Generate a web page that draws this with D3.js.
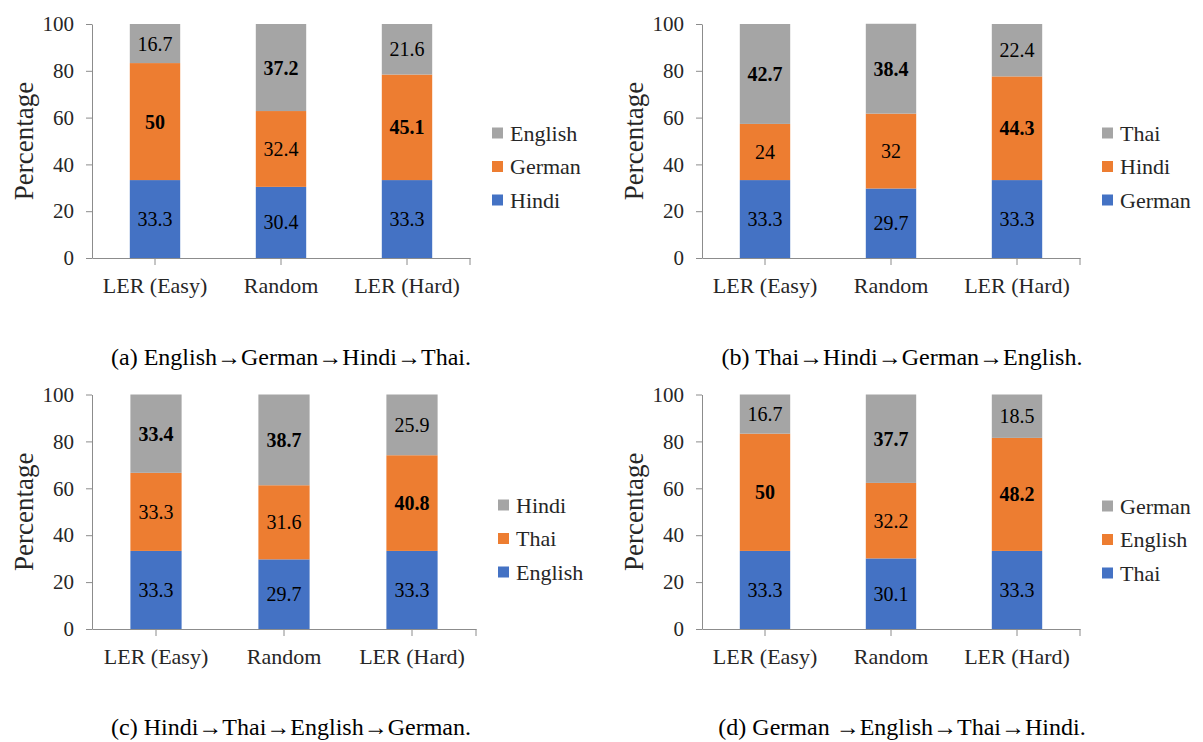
<!DOCTYPE html>
<html>
<head>
<meta charset="utf-8">
<script src="https://cdn.jsdelivr.net/npm/d3@7"></script>
<style>
  body { margin: 0; background: #fff; }
  svg { display: block; }
</style>
</head>
<body>
<svg id="theSvg"></svg>
<script>
// categories shared by all four panels
const categories = ["LER (Easy)", "Random", "LER (Hard)"];

// (a) English -> German -> Hindi -> Thai
const seriesA = ["Hindi", "German", "English"];
const valuesA = [[33.3, 30.4, 33.3], [50, 32.4, 45.1], [16.7, 37.2, 21.6]];
// (b) Thai -> Hindi -> German -> English
const seriesB = ["German", "Hindi", "Thai"];
const valuesB = [[33.3, 29.7, 33.3], [24, 32, 44.3], [42.7, 38.4, 22.4]];
// (c) Hindi -> Thai -> English -> German
const seriesC = ["English", "Thai", "Hindi"];
const valuesC = [[33.3, 29.7, 33.3], [33.3, 31.6, 40.8], [33.4, 38.7, 25.9]];
// (d) German -> English -> Thai -> Hindi
const seriesD = ["Thai", "English", "German"];
const valuesD = [[33.3, 30.1, 33.3], [50, 32.2, 48.2], [16.7, 37.7, 18.5]];

const captions = [
  "(a) English\u2192German\u2192Hindi\u2192Thai.",
  "(b) Thai\u2192Hindi\u2192German\u2192English.",
  "(c) Hindi\u2192Thai\u2192English\u2192German.",
  "(d) German \u2192English\u2192Thai\u2192Hindi."
];
const yTicks = [0, 20, 40, 60, 80, 100];

const colours = ["#4472C4", "#ED7D31", "#A5A5A5"];
const axisColour = "#8c8c8c";
const textColour = "#262626";
const font = "'Liberation Serif', 'Times New Roman', serif";

const width = 1203, height = 742;
const svg = d3.select("#theSvg")
  .attr("width", width)
  .attr("height", height)
  .attr("viewBox", [0, 0, width, height])
  .style("font-family", font);

const panels = [
  {series: seriesA, values: valuesA, caption: captions[0], x0: 92, x1: 470, yb: 258, yt: 24, cx: 291, cy: 365, ly: 133},
  {series: seriesB, values: valuesB, caption: captions[1], x0: 702, x1: 1080, yb: 258, yt: 24, cx: 902, cy: 365, ly: 133},
  {series: seriesC, values: valuesC, caption: captions[2], x0: 92, x1: 476, yb: 629, yt: 394.5, cx: 291, cy: 735, ly: 505},
  {series: seriesD, values: valuesD, caption: captions[3], x0: 702, x1: 1080, yb: 629, yt: 394.5, cx: 902, cy: 735, ly: 506}
];

panels.forEach(function(p) {
  const g = svg.append("g").attr("class", "panel");

  const x = d3.scaleBand()
    .domain(categories)
    .range([p.x0, p.x1])
    .paddingInner(0.6)
    .paddingOuter(0.3);

  const y = d3.scaleLinear()
    .domain([0, 100])
    .range([p.yb, p.yt]);

  const rows = categories.map(function(c, i) {
    const r = {category: c};
    p.series.forEach(function(s, j) { r[s] = p.values[j][i]; });
    return r;
  });
  const stacked = d3.stack().keys(p.series)(rows);

  // bars
  g.append("g").selectAll("g")
    .data(stacked)
    .join("g")
      .attr("fill", (d, i) => colours[i])
    .selectAll("rect")
    .data(d => d)
    .join("rect")
      .attr("x", d => x(d.data.category))
      .attr("y", d => y(d[1]))
      .attr("width", x.bandwidth())
      .attr("height", d => y(d[0]) - y(d[1]));

  // value labels, largest one in each bar in bold
  stacked.forEach(function(layer) {
    g.append("g").selectAll("text")
      .data(layer)
      .join("text")
        .attr("x", d => x(d.data.category) + x.bandwidth() / 2)
        .attr("y", d => (y(d[0]) + y(d[1])) / 2)
        .attr("dy", "0.35em")
        .attr("text-anchor", "middle")
        .style("font-family", font)
        .style("font-size", "20px")
        .attr("fill", "#000")
        .attr("font-weight", function(d) {
          const v = d.data[layer.key];
          const m = d3.max(p.series, s => d.data[s]);
          return v === m ? "bold" : null;
        })
        .text(d => d.data[layer.key]);
  });

  // y axis
  const yAxis = g.append("g")
    .attr("transform", "translate(" + p.x0 + ",0)")
    .call(d3.axisLeft(y).tickValues(yTicks).tickSize(6).tickPadding(12).tickSizeOuter(0));
  yAxis.select(".domain").attr("stroke", axisColour);
  yAxis.selectAll(".tick line").attr("stroke", axisColour);
  yAxis.selectAll(".tick text")
    .style("font-family", font)
    .style("font-size", "21px")
    .attr("fill", textColour);

  // x axis, ticks under the bars plus one closing tick
  const xAxis = g.append("g")
    .attr("transform", "translate(0," + p.yb + ")")
    .call(d3.axisBottom(x).tickSize(7).tickPadding(12).tickSizeOuter(0));
  xAxis.select(".domain").attr("stroke", axisColour);
  xAxis.selectAll(".tick line").attr("stroke", axisColour);
  xAxis.selectAll(".tick text")
    .style("font-family", font)
    .style("font-size", "22px")
    .attr("fill", textColour);
  xAxis.append("line")
    .attr("x1", p.x1).attr("x2", p.x1)
    .attr("y1", 0).attr("y2", 7)
    .attr("stroke", axisColour);

  // y title
  g.append("text")
    .attr("transform", "translate(" + (p.x0 - 68) + "," + ((p.yb + p.yt) / 2) + ") rotate(-90)")
    .attr("text-anchor", "middle")
    .attr("dy", "0.35em")
    .style("font-size", "27px")
    .attr("fill", textColour)
    .text("Percentage");

  // legend
  const legend = g.append("g")
    .attr("transform", "translate(" + (p.x1 + 22) + "," + p.ly + ")");
  const entries = p.series.map((s, i) => ({name: s, colour: colours[i]})).reverse();
  const item = legend.selectAll("g")
    .data(entries)
    .join("g")
      .attr("transform", (d, i) => "translate(0," + (i * 33.5) + ")");
  item.append("rect")
    .attr("x", 0).attr("y", -5.5)
    .attr("width", 11).attr("height", 11)
    .attr("fill", d => d.colour);
  item.append("text")
    .attr("x", 18)
    .attr("dy", "0.35em")
    .style("font-size", "22px")
    .attr("fill", textColour)
    .text(d => d.name);

  // caption
  svg.append("text")
    .attr("x", p.cx)
    .attr("y", p.cy)
    .attr("text-anchor", "middle")
    .style("font-size", "24px")
    .attr("fill", "#000")
    .text(p.caption);
});
</script>
</body>
</html>
